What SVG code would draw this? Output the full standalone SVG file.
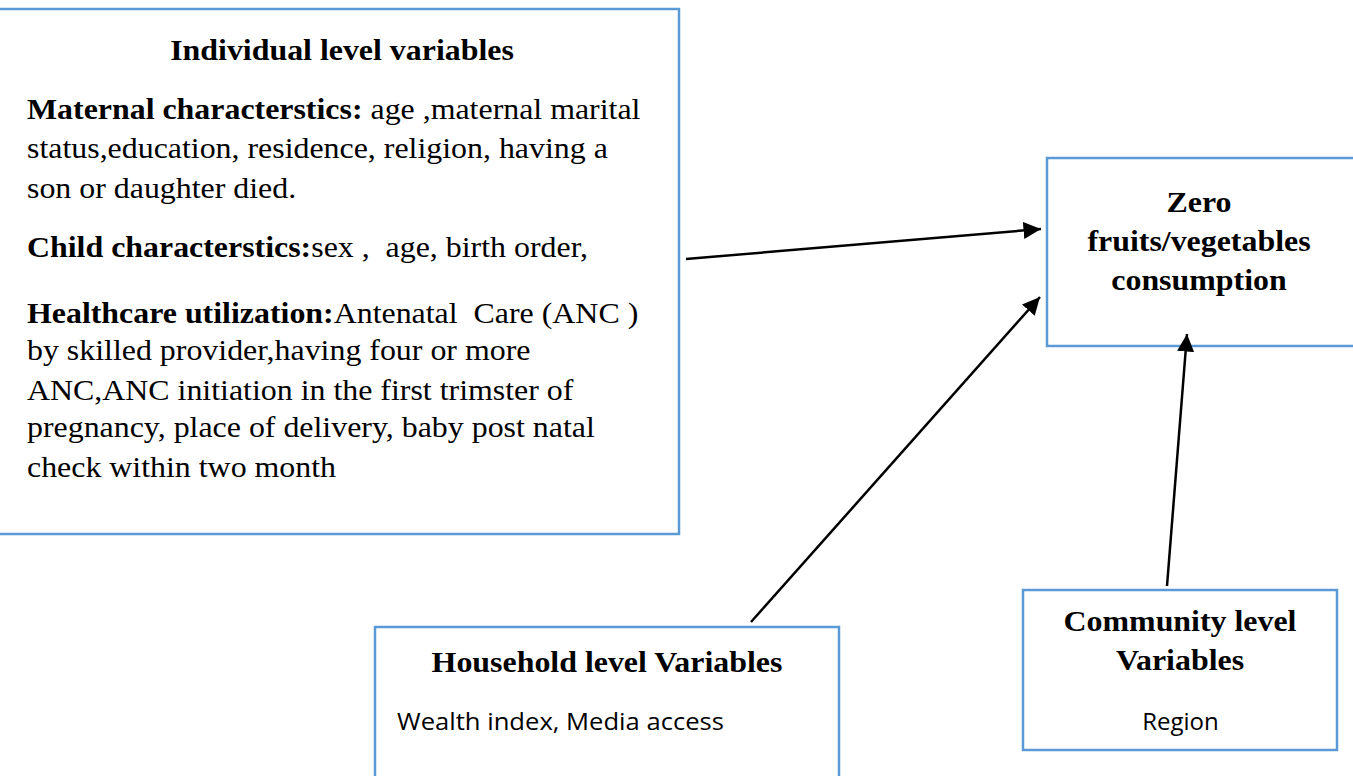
<svg xmlns="http://www.w3.org/2000/svg" width="1353" height="776" viewBox="0 0 1353 776">
<style>
.box{fill:#fff;stroke:#5b9bd5;stroke-width:2.5}
.t{font-family:"Liberation Serif","Times New Roman",serif;font-size:29px;fill:#000;white-space:pre}
.b{font-weight:bold}
.m{text-anchor:middle}
.s{font-family:"Open Sans","Liberation Sans",sans-serif;font-size:24px;fill:#000}
.c{stroke:#000;stroke-width:2.5;fill:none}
</style>
<defs>
<marker id="ah" markerWidth="8" markerHeight="8" refX="7" refY="4" orient="auto" markerUnits="strokeWidth">
<path d="M0,0.6 L7,4 L0,7.4 Z" fill="#000"/>
</marker>
</defs>
<rect width="1353" height="776" fill="#fff"/>
<g id="individual">
<path class="box" d="M-5,9 H679 V534 H-5"/>
<g transform="translate(342,0) scale(1.1,1)"><text class="t b m" x="0" y="60">Individual level variables</text></g>
<g transform="translate(27,0) scale(1.1,1)">
<text class="t" x="0" y="119"><tspan class="b">Maternal characterstics:</tspan> age ,maternal marital</text>
<text class="t" x="0" y="158">status,education, residence, religion, having a</text>
<text class="t" x="0" y="198">son or daughter died.</text>
<text class="t" x="0" y="257" xml:space="preserve"><tspan class="b">Child characterstics:</tspan>sex ,  age, birth order,</text>
<text class="t" x="0" y="323" xml:space="preserve"><tspan class="b">Healthcare utilization:</tspan>Antenatal  Care (ANC )</text>
<text class="t" x="0" y="360">by skilled provider,having four or more</text>
<text class="t" x="0" y="400">ANC,ANC initiation in the first trimster of</text>
<text class="t" x="0" y="437">pregnancy, place of delivery, baby post natal</text>
<text class="t" x="0" y="477">check within two month</text>
</g>
</g>
<g id="outcome">
<rect class="box" x="1047" y="158" width="310" height="188"/>
<g transform="translate(1199,0) scale(1.1,1)">
<text class="t b m" x="0" y="212">Zero</text>
<text class="t b m" x="0" y="251">fruits/vegetables</text>
<text class="t b m" x="0" y="290">consumption</text>
</g>
</g>
<g id="household">
<rect class="box" x="375" y="627" width="464" height="160"/>
<g transform="translate(607,0) scale(1.1,1)"><text class="t b m" x="0" y="672">Household level Variables</text></g>
<text class="s" x="397" y="730" textLength="327" lengthAdjust="spacingAndGlyphs">Wealth index, Media access</text>
</g>
<g id="community">
<rect class="box" x="1023" y="590" width="314" height="160"/>
<g transform="translate(1180,0) scale(1.1,1)">
<text class="t b m" x="0" y="631">Community level</text>
<text class="t b m" x="0" y="670">Variables</text>
</g>
<text class="s m" x="1180.5" y="730">Region</text>
</g>
<g id="connectors">
<line class="c" x1="686" y1="259" x2="1041" y2="229" marker-end="url(#ah)"/>
<line class="c" x1="751" y1="622" x2="1040" y2="297" marker-end="url(#ah)"/>
<line class="c" x1="1167" y1="586" x2="1187" y2="334" marker-end="url(#ah)"/>
</g>
</svg>
